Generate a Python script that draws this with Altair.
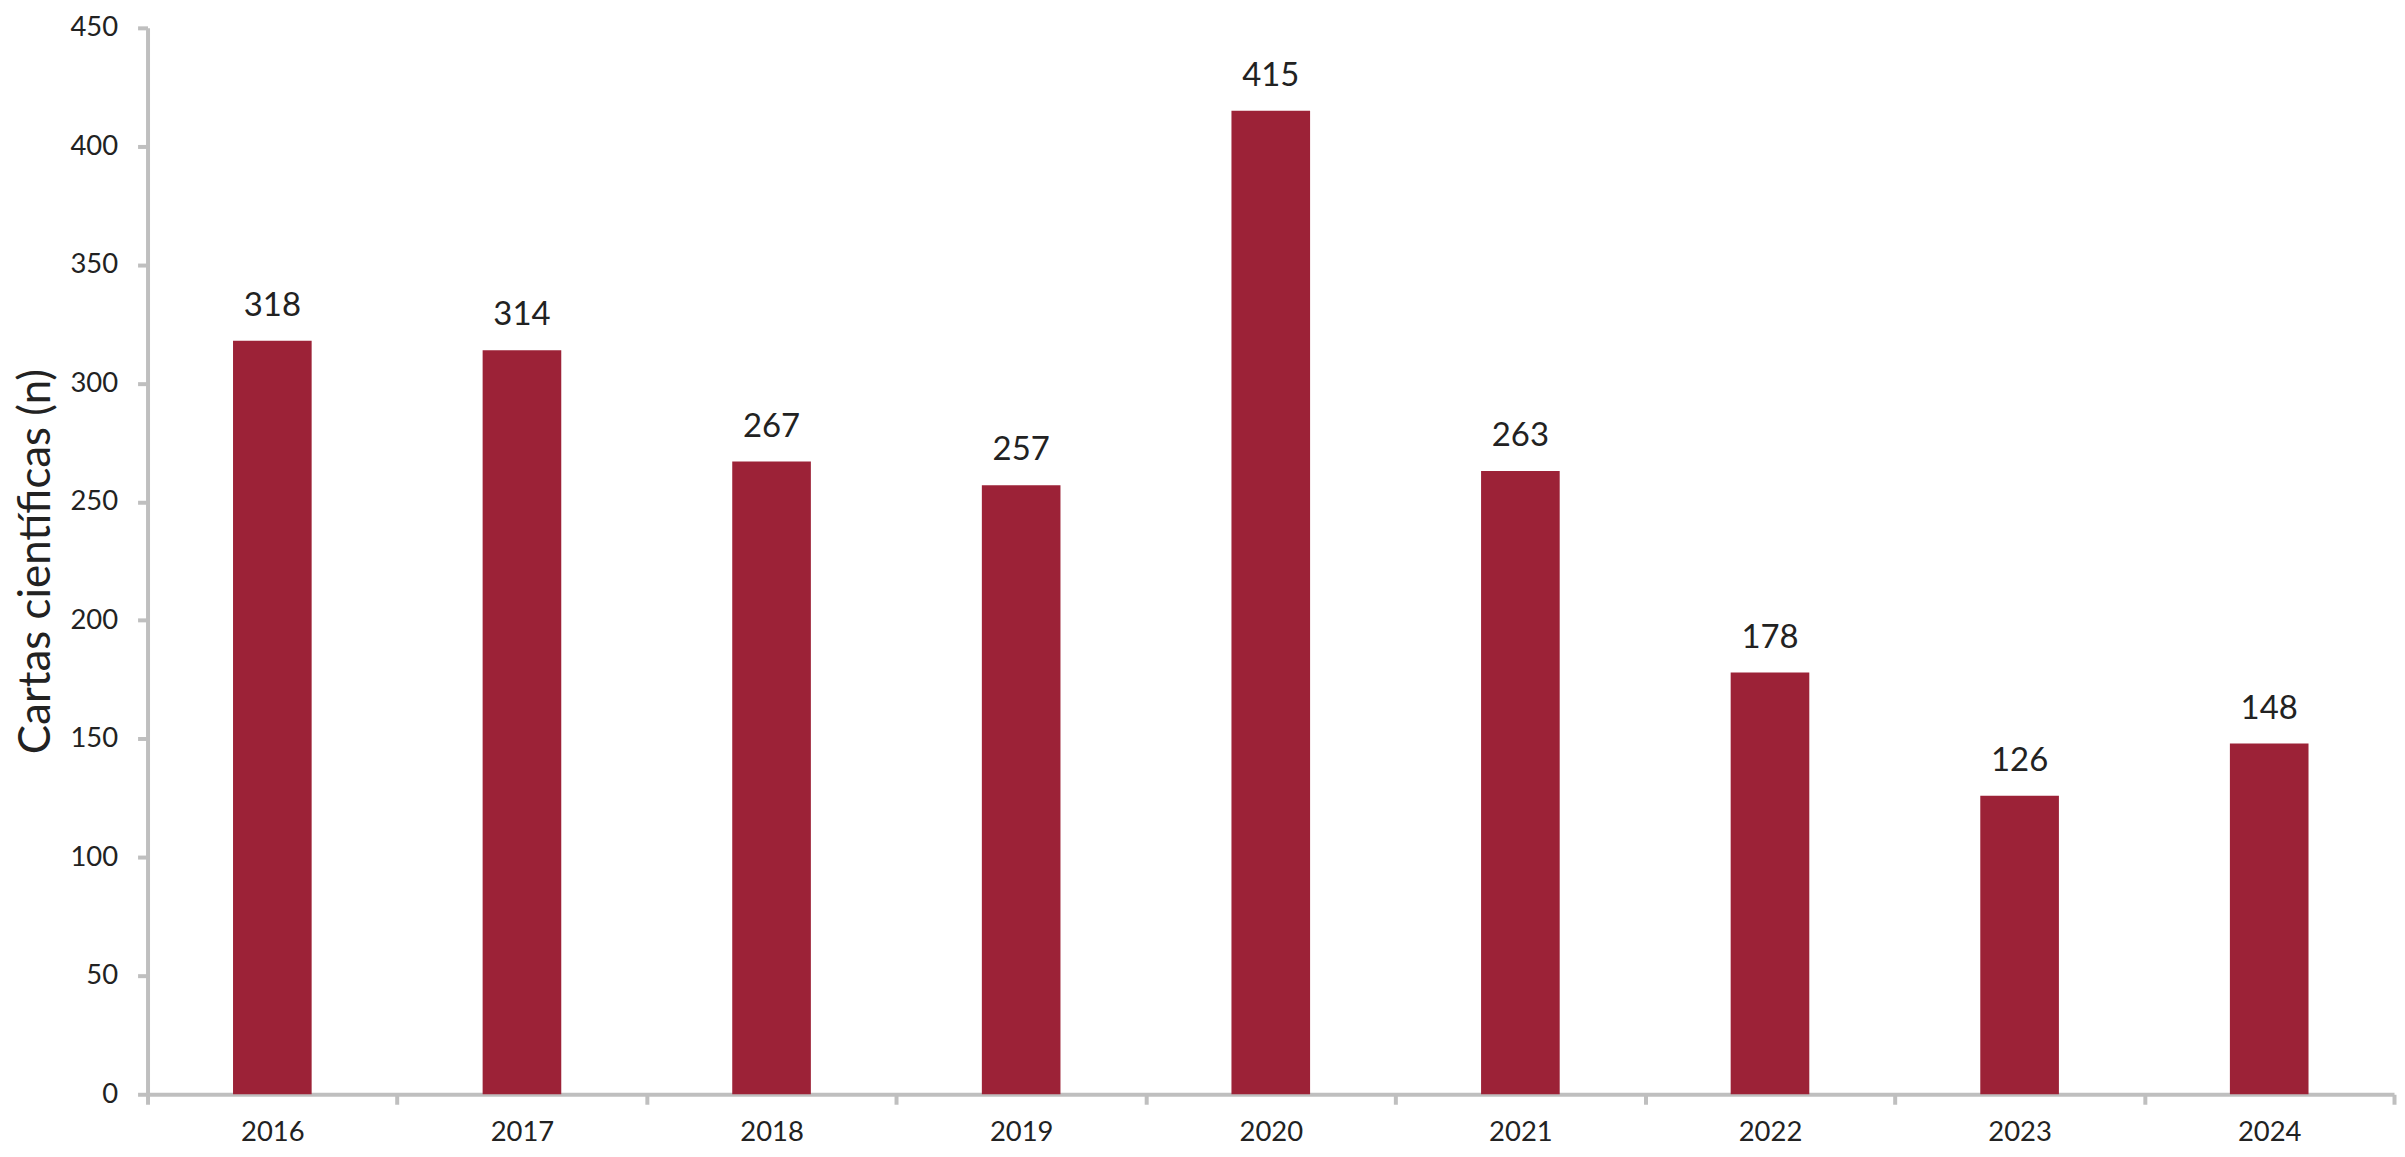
import altair as alt
import pandas as pd

years = ["2016", "2017", "2018", "2019", "2020", "2021", "2022", "2023", "2024"]
counts = [318, 314, 267, 257, 415, 263, 178, 126, 148]
y_ticks = [0, 50, 100, 150, 200, 250, 300, 350, 400, 450]

df = pd.DataFrame({"year": years, "n": counts})

FONT = "Lato"
AXIS_COLOR = "#BFBFBF"
TEXT_COLOR = "#222222"
BAR_COLOR = "#9C2237"

x = alt.X(
    "year:N",
    sort=years,
    scale=alt.Scale(paddingInner=0, paddingOuter=0),
    axis=alt.Axis(
        title=None,
        tickBand="extent",
        domainColor=AXIS_COLOR,
        domainWidth=4,
        tickColor=AXIS_COLOR,
        tickWidth=4,
        tickSize=10,
        labelAngle=0,
        labelFont=FONT,
        labelFontSize=27.5,
        labelColor=TEXT_COLOR,
        labelPadding=14,
    ),
)

y = alt.Y(
    "n:Q",
    scale=alt.Scale(domain=[0, 450], nice=False),
    axis=alt.Axis(
        title="Cartas científicas (n)",
        titleFont=FONT,
        titleFontSize=44,
        titleFontWeight="normal",
        titleColor=TEXT_COLOR,
        titlePadding=12,
        values=y_ticks,
        grid=False,
        domainColor=AXIS_COLOR,
        domainWidth=4,
        tickColor=AXIS_COLOR,
        tickWidth=4,
        tickSize=10,
        labelFont=FONT,
        labelFontSize=27.5,
        labelColor=TEXT_COLOR,
        labelPadding=20,
    ),
)

bars = alt.Chart(df).mark_bar(
    color=BAR_COLOR, width=alt.RelativeBandSize(0.315)
).encode(x=x, y=y)

labels = alt.Chart(df).mark_text(
    font=FONT,
    fontSize=33,
    color=TEXT_COLOR,
    baseline="alphabetic",
    dy=-25,
).encode(x=alt.X("year:N", sort=years), y="n:Q", text="n:Q")

chart = (
    alt.layer(bars, labels)
    .properties(
        width=2254,
        height=1070,
        autosize=alt.AutoSizeParams(type="none"),
        padding={"left": 140, "top": 18, "right": 3, "bottom": 55},
        background="white",
    )
    .configure_view(stroke=None)
)

chart.save("out.html", embed_options={"renderer": "svg", "actions": False})
